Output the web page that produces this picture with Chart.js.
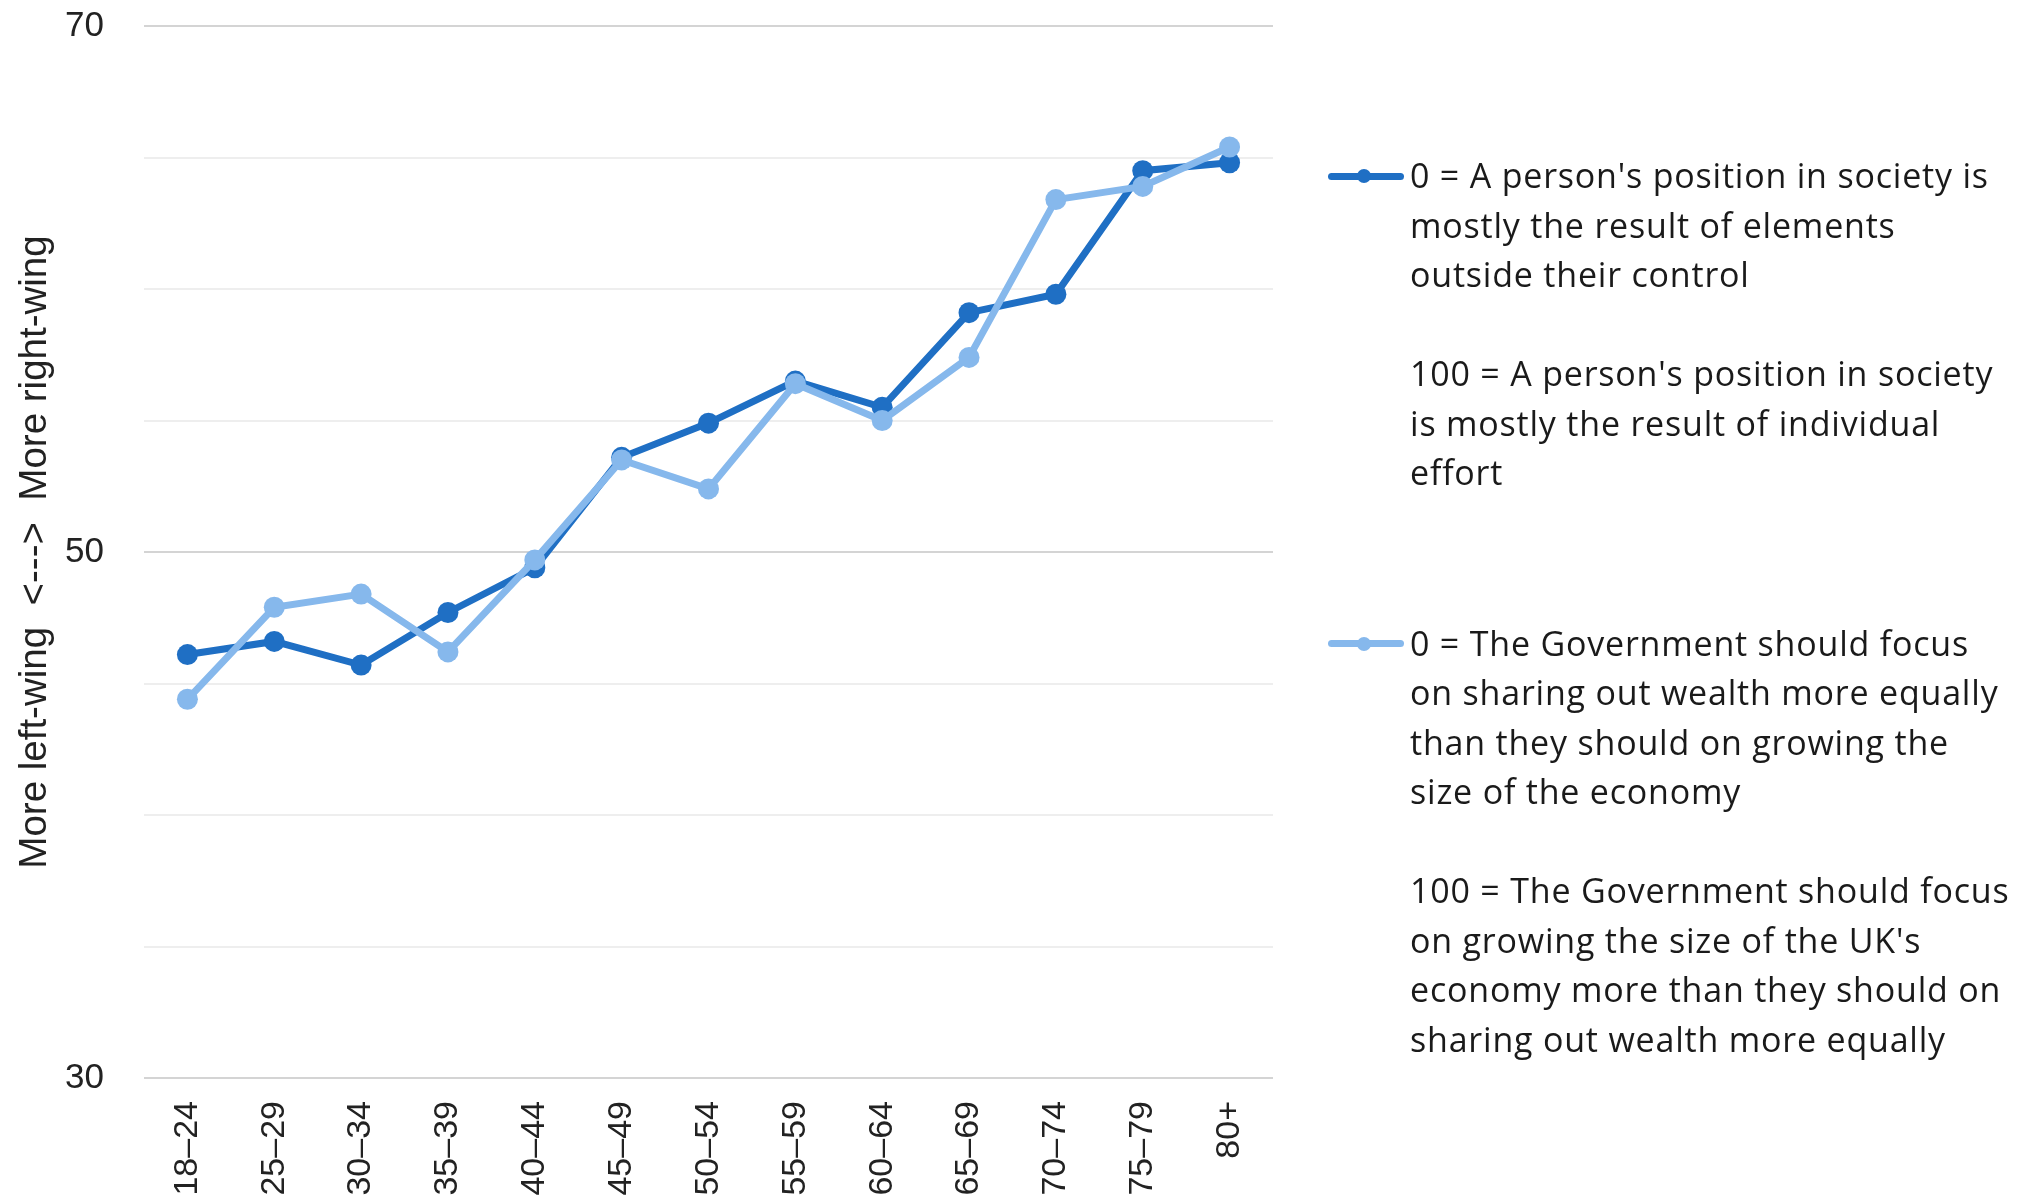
<!DOCTYPE html>
<html>
<head>
<meta charset="utf-8">
<script src="https://cdn.jsdelivr.net/npm/chart.js@4"></script>
<style>
  html, body { margin: 0; padding: 0; background: #ffffff; }
  #wrap { position: relative; width: 2018px; height: 1204px; overflow: hidden; }
  #chart { position: absolute; left: 0; top: 0; }
  .legend-item { position: absolute; left: 1326px; }
  .swatch { position: absolute; left: 0; width: 80px; height: 49.5px; }
  .swatch .bar { position: absolute; left: 2px; top: 21.25px; width: 76px; height: 7px; border-radius: 3.5px; }
  .swatch .dot { position: absolute; left: 31px; top: 17.75px; width: 14px; height: 14px; border-radius: 50%; }
  .legend-text {
    position: absolute; left: 84px; top: 0; white-space: nowrap;
    font-family: "Open Sans", "DejaVu Sans", sans-serif; font-size: 34px; line-height: 49.5px;
    color: #1a1a1a; letter-spacing: 0.8px;
  }
</style>
</head>
<body>
<div id="wrap">
  <canvas id="chart" width="2018" height="1204"></canvas>
  <div id="legend"></div>
</div>
<script>
// Age bands on the horizontal axis
const ageGroups = ['18–24', '25–29', '30–34', '35–39', '40–44', '45–49', '50–54',
                   '55–59', '60–64', '65–69', '70–74', '75–79', '80+'];

// Mean score per age band, 0–100 scale
const positionScores = [46.1, 46.6, 45.7, 47.7, 49.4, 53.6, 54.9, 56.5, 55.5, 59.1, 59.8, 64.5, 64.8];
const economyScores  = [44.4, 47.9, 48.4, 46.2, 49.7, 53.5, 52.4, 56.4, 55.0, 57.4, 63.4, 63.9, 65.4];

// Labelled values on the vertical axis (gridlines every 5)
const yTickLabels = [30, 50, 70];

// Legend wording, one entry per line as laid out
const positionLegend = [
  "0 = A person's position in society is",
  "mostly the result of elements",
  "outside their control",
  "",
  "100 = A person's position in society",
  "is mostly the result of individual",
  "effort"
];
const economyLegend = [
  "0 = The Government should focus",
  "on sharing out wealth more equally",
  "than they should on growing the",
  "size of the economy",
  "",
  "100 = The Government should focus",
  "on growing the size of the UK's",
  "economy more than they should on",
  "sharing out wealth more equally"
];

const DARK = '#1f6fc4';
const LIGHT = '#86b8ec';
const AXIS_FONT = '"Liberation Sans", Arial, sans-serif';
const TEXT = '#222222';

new Chart(document.getElementById('chart'), {
  type: 'line',
  data: {
    labels: ageGroups,
    datasets: [
      {
        label: positionLegend.join(' '),
        data: positionScores,
        borderColor: DARK,
        backgroundColor: DARK,
        pointBackgroundColor: DARK,
        pointBorderWidth: 0,
        pointRadius: 10.5,
        borderWidth: 7,
        tension: 0,
        order: 2
      },
      {
        label: economyLegend.join(' '),
        data: economyScores,
        borderColor: LIGHT,
        backgroundColor: LIGHT,
        pointBackgroundColor: LIGHT,
        pointBorderWidth: 0,
        pointRadius: 10.5,
        borderWidth: 7,
        tension: 0,
        order: 1
      }
    ]
  },
  options: {
    responsive: false,
    animation: false,
    devicePixelRatio: 1,
    layout: { padding: { top: 26, right: 745, bottom: 0, left: 0 } },
    plugins: {
      legend: { display: false },
      tooltip: { enabled: false }
    },
    scales: {
      x: {
        type: 'category',
        offset: true,
        grid: { display: false, drawTicks: false },
        border: { display: false },
        ticks: {
          autoSkip: false,
          minRotation: 90,
          maxRotation: 90,
          padding: 23,
          color: TEXT,
          font: { family: AXIS_FONT, size: 34 }
        },
        afterFit: (scale) => { scale.height = 126; }
      },
      y: {
        min: 30,
        max: 70,
        border: { display: false },
        grid: {
          drawTicks: false,
          lineWidth: 2,
          color: (ctx) => (ctx.tick && yTickLabels.includes(ctx.tick.value)) ? '#d4d4d4' : '#eeeeee'
        },
        ticks: {
          stepSize: 5,
          padding: 40,
          color: TEXT,
          font: { family: AXIS_FONT, size: 35 },
          callback: (v) => yTickLabels.includes(v) ? String(v) : ''
        },
        title: {
          display: true,
          text: 'More left-wing  <--->  More right-wing',
          color: TEXT,
          font: { family: AXIS_FONT, size: 38.5 },
          padding: { top: 12, bottom: 0 }
        },
        afterFit: (scale) => {
          scale.width = 144;
          // tick padding only separates labels from the plot horizontally
          scale.paddingTop = 0;
          scale.paddingBottom = 0;
        }
      }
    }
  }
});

// Legend beside the plot: a line-and-dot swatch with multi-line text
function addLegendItem(lines, color, firstLineCentre) {
  const lineHeight = 49.5;
  const item = document.createElement('div');
  item.className = 'legend-item';
  item.style.top = (firstLineCentre - lineHeight / 2) + 'px';

  const swatch = document.createElement('div');
  swatch.className = 'swatch';
  const bar = document.createElement('div');
  bar.className = 'bar';
  bar.style.background = color;
  const dot = document.createElement('div');
  dot.className = 'dot';
  dot.style.background = color;
  swatch.appendChild(bar);
  swatch.appendChild(dot);

  const text = document.createElement('div');
  text.className = 'legend-text';
  lines.forEach((ln) => {
    const row = document.createElement('div');
    row.style.height = lineHeight + 'px';
    row.textContent = ln;
    text.appendChild(row);
  });

  item.appendChild(swatch);
  item.appendChild(text);
  document.getElementById('legend').appendChild(item);
}

addLegendItem(positionLegend, DARK, 176);
addLegendItem(economyLegend, LIGHT, 643.5);
</script>
</body>
</html>
